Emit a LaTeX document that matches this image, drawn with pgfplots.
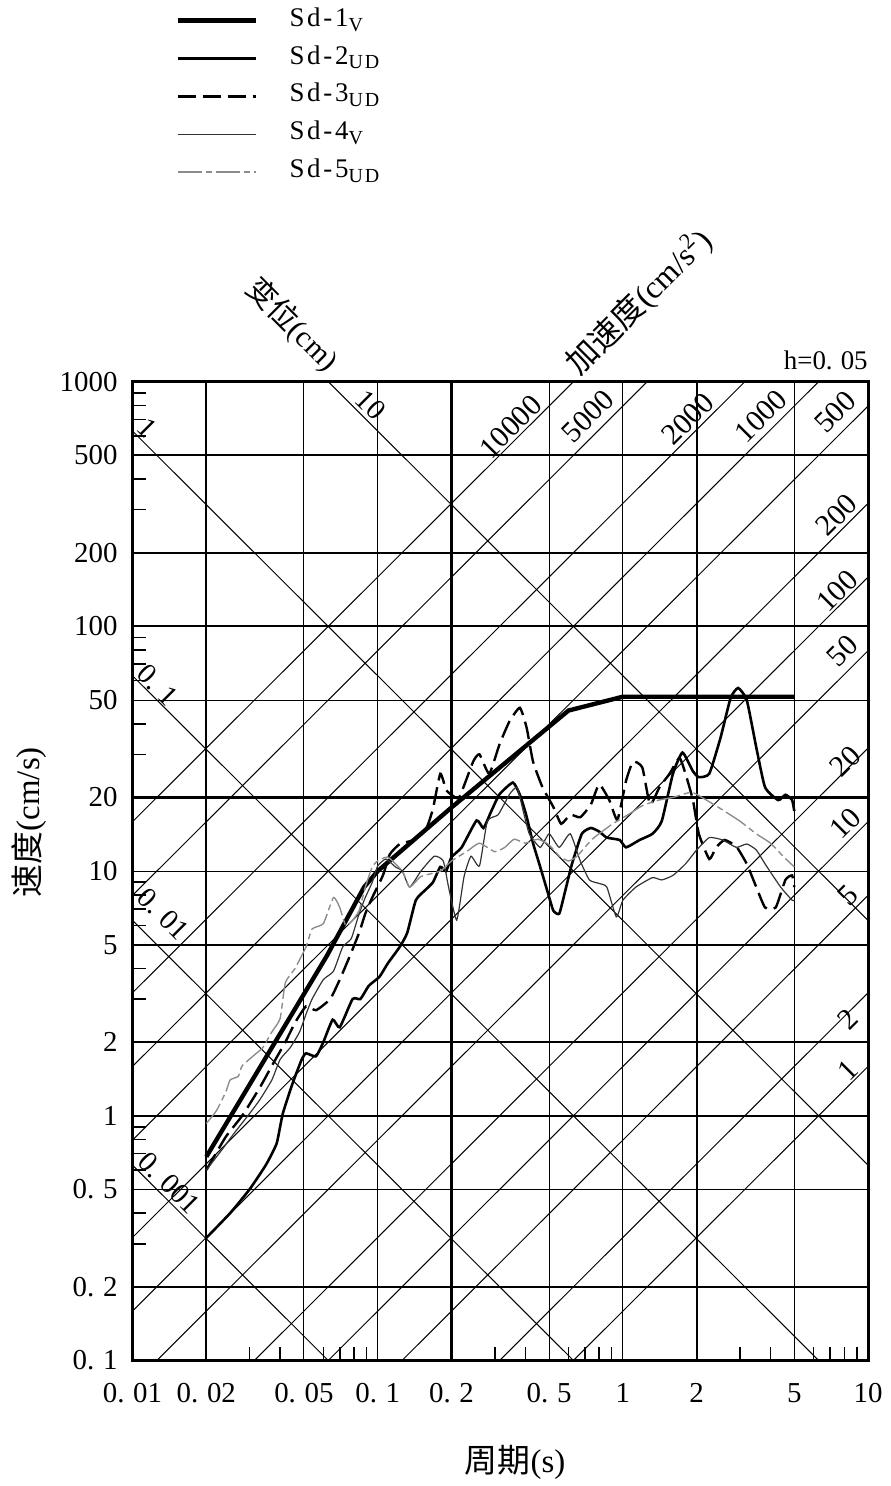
\documentclass[border=0pt]{standalone}
\usepackage{fontspec}
\setmainfont{Liberation Serif}
\newfontfamily\cjk{Noto Sans CJK SC}
\newfontfamily\legfont[LetterSpace=10]{Liberation Serif}
\usepackage{pgfplots}
\pgfplotsset{compat=1.18}
\newcommand{\fs}[1]{\fontsize{#1}{#1}\selectfont}
\newcommand{\dd}{.\hspace{0.3em}}

\begin{document}
\begin{tikzpicture}
\begin{axis}[
  scale only axis, width=369pt, height=491pt,
  xmode=log, ymode=log,
  xmin=0.01, xmax=10, ymin=0.1, ymax=1000,
  xtick={0.01,0.05,0.1,0.5,1,5,10},
  xticklabels={0\dd01,0\dd05,0\dd1,0\dd5,1,5,10},
  extra x ticks={0.02,0.2,2},
  extra x tick labels={0\dd02,0\dd2,2},
  extra x tick style={grid=major, major grid style={black, line width=1.1pt}},
  ytick={0.5,10,50},
  yticklabels={0\dd5,10,50},
  extra y ticks={0.1,0.2,1,2,5,20,100,200,500,1000},
  extra y tick labels={0\dd1,0\dd2,1,2,5,20,100,200,500,1000},
  extra y tick style={grid=major, major grid style={black, line width=1.1pt}},
  grid=major, major grid style={black, line width=0.5pt},
  major tick length=0pt,
  minor xtick={0.03,0.04,0.06,0.07,0.08,0.09,0.3,0.4,0.6,0.7,0.8,0.9,3,4,6,7,8,9},
  minor ytick={0.3,0.4,0.6,0.7,0.8,0.9,3,4,6,7,8,9,30,40,60,70,80,90,300,400,600,700,800,900},
  minor tick length=7pt,
  tick pos=left, tick align=inside,
  minor tick style={black, line width=0.8pt},
  axis line style={line width=1.5pt},
  ticklabel style={font=\fs{14.5}},
  xticklabel style={yshift=-8pt},
  yticklabel style={xshift=-4pt},
  clip mode=individual,
  legend style={at={(rel axis cs:0.058,1.382)}, anchor=north west, draw=none, fill=none,
    inner sep=0pt, font=\legfont\fs{13.5},
    nodes={inner sep=0pt, text height=9pt, text depth=2.5pt, anchor=west},
    row sep=7.5pt,
    /tikz/every odd column/.append style={column sep=16pt}},
  legend cell align=left,
  legend image code/.code={\draw[#1] (0pt,-0.5pt) -- (39pt,-0.5pt);},
  diag/.style={black, line width=0.5pt, forget plot},
]
% displacement lines (cm)
\addplot[diag] coordinates {(0.01,6283.2)(10,6.2832)};
\addplot[diag] coordinates {(0.01,628.32)(10,0.62832)};
\addplot[diag] coordinates {(0.01,62.832)(10,0.062832)};
\addplot[diag] coordinates {(0.01,6.2832)(10,0.0062832)};
\addplot[diag] coordinates {(0.01,0.62832)(10,0.00062832)};
% acceleration lines (cm/s2)
\addplot[diag] coordinates {(0.01,0.0015915)(10,1.5915)};
\addplot[diag] coordinates {(0.01,0.003183)(10,3.183)};
\addplot[diag] coordinates {(0.01,0.0079577)(10,7.9577)};
\addplot[diag] coordinates {(0.01,0.015915)(10,15.915)};
\addplot[diag] coordinates {(0.01,0.03183)(10,31.83)};
\addplot[diag] coordinates {(0.01,0.079577)(10,79.577)};
\addplot[diag] coordinates {(0.01,0.15915)(10,159.15)};
\addplot[diag] coordinates {(0.01,0.3183)(10,318.3)};
\addplot[diag] coordinates {(0.01,0.79577)(10,795.77)};
\addplot[diag] coordinates {(0.01,1.5915)(10,1591.5)};
\addplot[diag] coordinates {(0.01,3.183)(10,3183)};
\addplot[diag] coordinates {(0.01,7.9577)(10,7957.7)};
\addplot[diag] coordinates {(0.01,15.915)(10,15915)};

% Sd-1
\addplot[black, line width=2.2pt] coordinates {
 (0.02,0.68)(0.062,4.5)(0.088,8.6)(0.1,10.0)(0.2,18.2)(0.6,45.3)(1,51.6)(5,51.6)};
\addlegendentry{Sd-1\raisebox{-0.4ex}{\fs{10}V}}
% Sd-2
\addplot[black, line width=1.3pt, smooth, tension=0.3] coordinates {
 (0.02,0.317)(0.025,0.40)(0.03,0.50)(0.035,0.63)(0.0387,0.77)(0.041,1.02)(0.045,1.36)
 (0.049,1.7)(0.051,1.8)(0.056,1.75)(0.06,2.0)(0.0655,2.47)(0.07,2.3)(0.079,3.0)(0.085,3.0)
 (0.092,3.4)(0.1017,3.7)(0.11,4.2)(0.123,4.9)(0.132,5.6)(0.143,7.6)(0.157,8.4)(0.168,9.0)
 (0.18,10.4)(0.19,10.0)(0.2,11.4)(0.22,12.5)(0.253,16.1)(0.27,15)(0.29,17.5)(0.314,20.6)
 (0.356,23)(0.38,20.5)(0.403,17)(0.43,13)(0.456,10.7)(0.49,8.4)(0.52,6.9)(0.55,6.7)
 (0.58,8.2)(0.62,10.7)(0.68,14.2)(0.74,15)(0.8,14.5)(0.86,13.7)(0.97,13.4)(1.03,12.5)
 (1.17,13.4)(1.32,14.2)(1.44,16)(1.6,25)(1.75,30.5)(1.93,25.6)(2.04,24.2)(2.25,25)
 (2.5,35)(2.75,51)(2.95,56)(3.2,50)(3.5,32)(3.8,22)(4.3,19.5)(4.6,20.5)(4.9,19.5)(5,17.6)};
\addlegendentry{Sd-2\raisebox{-0.4ex}{\fs{10}UD}}
% Sd-3
\addplot[black, line width=1.2pt, dash pattern=on 9pt off 3.5pt, smooth, tension=0.3] coordinates {
 (0.02,0.6)(0.024,0.82)(0.028,1.0)(0.033,1.3)(0.037,1.6)(0.042,2.0)(0.046,2.4)(0.051,2.8)
 (0.056,2.7)(0.064,3.0)(0.07,3.6)(0.077,4.5)(0.084,5.6)(0.089,6.7)(0.095,7.8)(0.105,9.6)
 (0.112,11.7)(0.123,12.9)(0.14,13.4)(0.158,15)(0.168,18)(0.18,25)(0.19,21.5)(0.2,20.5)
 (0.215,20)(0.245,28)(0.26,30)(0.285,25)(0.314,33)(0.345,41)(0.38,46.5)(0.405,38.5)
 (0.43,28)(0.47,22)(0.52,18.3)(0.56,15.6)(0.61,17)(0.67,16.6)(0.74,18.7)(0.8,22.6)
 (0.88,19.5)(0.95,16.2)(1.03,23.4)(1.1,28)(1.2,26.5)(1.29,18.7)(1.41,22)(1.55,25)(1.7,29)
 (1.8,25)(1.93,19.5)(2.04,14.2)(2.25,11.2)(2.4,12.5)(2.6,13.4)(2.9,12.6)(3.2,10.7)(3.5,8.6)
 (3.8,7.1)(4.2,7.1)(4.6,9.2)(4.9,9.6)(5,8.6)};
\addlegendentry{Sd-3\raisebox{-0.4ex}{\fs{10}UD}}
% Sd-4
\addplot[black!80, line width=0.6pt, smooth, tension=0.3] coordinates {
 (0.02,0.6)(0.023,0.72)(0.026,0.85)(0.03,1.02)(0.033,1.16)(0.037,1.4)(0.04,1.7)(0.044,1.9)
 (0.048,2.2)(0.051,2.6)(0.054,3.0)(0.06,3.6)(0.066,3.9)(0.072,4.9)(0.078,5.3)(0.084,6.7)
 (0.089,7.8)(0.095,9.0)(0.1,10.5)(0.108,11.2)(0.118,10.4)(0.126,10)(0.135,8.6)(0.15,10)
 (0.17,11.5)(0.185,11)(0.195,8.5)(0.21,6.3)(0.225,9.5)(0.24,11.5)(0.26,10.5)(0.28,16)
 (0.31,17)(0.345,20.6)(0.37,22)(0.39,18)(0.415,14.2)(0.46,12.5)(0.5,14.2)(0.55,12.5)
 (0.61,14.2)(0.67,11)(0.73,9.2)(0.8,8.9)(0.86,8.6)(0.94,6.5)(1.0,7.6)(1.13,8.6)(1.32,9.4)
 (1.44,9.2)(1.6,9.6)(1.8,10.7)(2.0,12.2)(2.25,13.7)(2.55,13.4)(2.9,12.5)(3.2,12.9)(3.5,12.2)
 (3.8,10.7)(4.4,8.6)(4.9,7.6)(5,7.6)};
\addlegendentry{Sd-4\raisebox{-0.4ex}{\fs{10}V}}
% Sd-5
\addplot[black!45, line width=0.7pt, dash pattern=on 12pt off 2pt on 3pt off 2pt, smooth, tension=0.3] coordinates {
 (0.02,0.93)(0.022,1.05)(0.024,1.25)(0.025,1.4)(0.027,1.45)(0.028,1.6)(0.032,1.8)(0.034,1.9)
 (0.037,2.2)(0.04,2.5)(0.042,3.5)(0.046,4.0)(0.051,4.9)(0.054,5.8)(0.06,6.1)(0.066,7.8)
 (0.07,7.1)(0.074,6.0)(0.079,6.3)(0.084,6.9)(0.089,8.6)(0.095,10.4)(0.1,11)(0.11,11.4)
 (0.126,10)(0.135,8.6)(0.15,9.5)(0.18,10)(0.2,11)(0.23,12)(0.26,13)(0.3,12)(0.33,12.5)
 (0.36,13.5)(0.4,13)(0.45,13.5)(0.5,12.8)(0.55,11.5)(0.6,11)(0.65,11.5)(0.75,13.5)(0.9,15.5)
 (1.05,17)(1.2,18.5)(1.4,19.5)(1.6,20)(1.9,21)(2.1,20)(2.5,18)(3.0,16)(3.5,14.2)(4.0,13)
 (4.5,11.5)(5,10.4)};
\addlegendentry{Sd-5\raisebox{-0.4ex}{\fs{10}UD}}

% diagonal scale labels: displacement
\node[rotate=-45, font=\fs{14.5}] at (rel axis cs:0.324,0.976) {10};
\node[rotate=-45, font=\fs{14.5}] at (rel axis cs:0.020,0.953) {1};
\node[rotate=-45, font=\fs{14.5}] at (rel axis cs:0.034,0.690) {0\dd1};
\node[rotate=-45, font=\fs{14.5}] at (rel axis cs:0.042,0.456) {0\dd01};
\node[rotate=-45, font=\fs{14.5}] at (rel axis cs:0.050,0.181) {0\dd001};
% acceleration
\node[rotate=45, font=\fs{15}] at (rel axis cs:0.514,0.954) {10000};
\node[rotate=45, font=\fs{15}] at (rel axis cs:0.619,0.965) {5000};
\node[rotate=45, font=\fs{15}] at (rel axis cs:0.755,0.962) {2000};
\node[rotate=45, font=\fs{15}] at (rel axis cs:0.854,0.965) {1000};
\node[rotate=45, font=\fs{15}] at (rel axis cs:0.955,0.969) {500};
\node[rotate=45, font=\fs{15}] at (rel axis cs:0.957,0.864) {200};
\node[rotate=45, font=\fs{15}] at (rel axis cs:0.958,0.786) {100};
\node[rotate=45, font=\fs{15}] at (rel axis cs:0.965,0.725) {50};
\node[rotate=45, font=\fs{15}] at (rel axis cs:0.969,0.612) {20};
\node[rotate=45, font=\fs{15}] at (rel axis cs:0.969,0.549) {10};
\node[rotate=45, font=\fs{15}] at (rel axis cs:0.972,0.475) {5};
\node[rotate=45, font=\fs{15}] at (rel axis cs:0.972,0.349) {2};
\node[rotate=45, font=\fs{15}] at (rel axis cs:0.972,0.297) {1};

% titles
\node[anchor=south east, font=\fs{13.5}, inner sep=0pt] at (rel axis cs:1,1.012) {h=0\dd05};
\node[rotate=-45, font=\fs{15}] at (rel axis cs:0.217,1.058) {{\cjk 变位}(cm)};
\node[rotate=45, font=\fs{16}] at (rel axis cs:0.689,1.081) {{\cjk 加速度}(cm/s\textsuperscript{2})};
\node[rotate=90, font=\fs{16.5}] at (rel axis cs:-0.140,0.550) {{\cjk 速度}(cm/s)};
\node[font=\fs{16.5}] at (rel axis cs:0.520,-0.104) {{\cjk 周期}(s)};

\coordinate (BL) at (rel axis cs:-0.1802,-0.1232);
\coordinate (TR) at (rel axis cs:1.0298,1.390);
\end{axis}
\path (BL) rectangle (TR);
\end{tikzpicture}
\end{document}
